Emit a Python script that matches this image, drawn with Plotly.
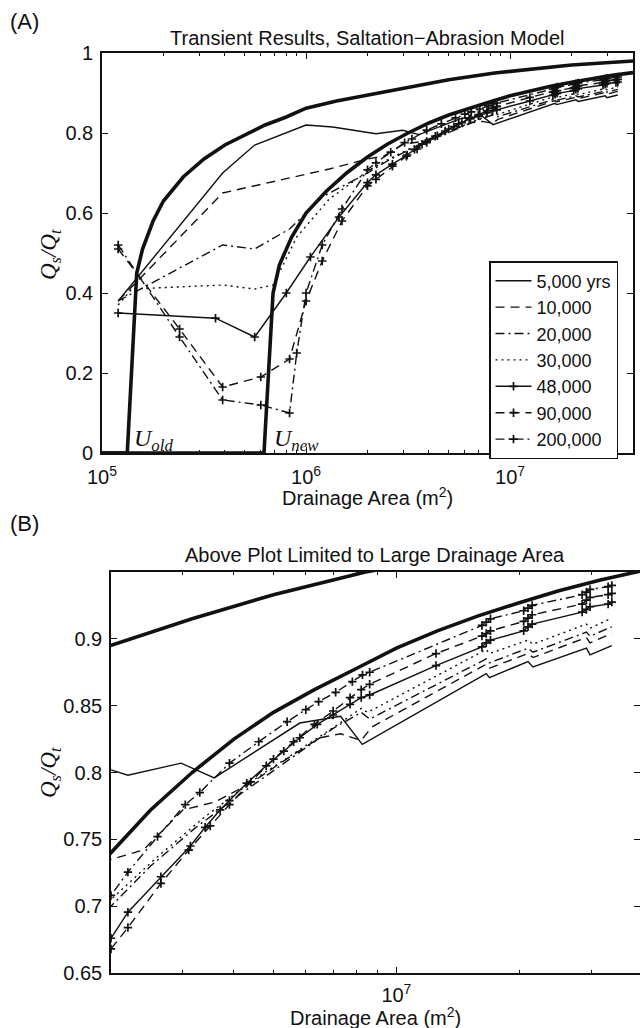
import numpy as np
import plotly.graph_objects as go

# ---------------- data ----------------
# steady-state curves (thick)
OLD_A = [1e5, 1.33e5, 1.48e5, 1.58e5, 1.78e5, 2.0e5, 2.5e5, 3.16e5, 4.0e5, 5.0e5, 6.3e5, 8.0e5,
         1.0e6, 1.41e6, 2.0e6, 3.16e6, 5.0e6, 8.4e6, 1.26e7, 2.0e7, 4.0e7]
OLD_V = [0, 0, 0.45, 0.51, 0.58, 0.63, 0.69, 0.735, 0.77, 0.795, 0.82, 0.84,
         0.862, 0.88, 0.895, 0.915, 0.933, 0.95, 0.96, 0.97, 0.98]
NEW_A = [1e5, 6.22e5, 6.89e5, 7.4e5, 8.5e5, 1.0e6, 1.26e6, 1.58e6, 2.0e6, 2.5e6, 3.16e6, 4.0e6,
         5.0e6, 6.3e6, 8.0e6, 1.0e7, 1.26e7, 1.58e7, 2.0e7, 2.5e7, 3.16e7, 4.0e7]
NEW_V = [0, 0, 0.40, 0.47, 0.54, 0.60, 0.655, 0.70, 0.74, 0.772, 0.80, 0.825,
         0.845, 0.862, 0.878, 0.893, 0.906, 0.917, 0.927, 0.936, 0.944, 0.951]

# transient series
S5K_A = [1.2e5, 3.9e5, 5.6e5, 1.0e6, 1.35e6, 2.0e6, 2.2e6, 2.97e6, 3.58e6, 5.8e6, 7.3e6, 8.25e6,
         1.66e7, 1.69e7, 2.1e7, 2.16e7, 2.92e7, 2.98e7, 3.37e7]
S5K_V = [0.38, 0.70, 0.77, 0.82, 0.815, 0.802, 0.798, 0.807, 0.796, 0.837, 0.842, 0.821,
         0.874, 0.871, 0.883, 0.879, 0.893, 0.888, 0.895]

S10K_A = [1.2e5, 3.9e5, 1.3e6, 2.0e6, 2.4e6, 3.0e6, 3.6e6, 4.4e6, 5.5e6, 6.5e6, 7.3e6, 8.2e6, 8.7e6,
          1.66e7, 1.69e7, 2.1e7, 2.16e7, 2.92e7, 2.98e7, 3.37e7]
S10K_V = [0.38, 0.65, 0.71, 0.735, 0.742, 0.772, 0.778, 0.792, 0.812, 0.826, 0.829, 0.824, 0.834,
          0.881, 0.878, 0.889, 0.886, 0.901, 0.897, 0.904]

S20K_A = [1.2e5, 3.9e5, 5.6e5, 8.3e5, 1.2e6, 2.0e6, 2.5e6, 3.2e6, 4.2e6, 5.5e6, 7.0e6, 8.2e6, 8.6e6,
          1.66e7, 1.69e7, 2.1e7, 2.16e7, 2.92e7, 2.98e7, 3.37e7]
S20K_V = [0.38, 0.52, 0.51, 0.56, 0.64, 0.70, 0.73, 0.758, 0.785, 0.81, 0.833, 0.845, 0.840,
          0.885, 0.882, 0.893, 0.89, 0.905, 0.902, 0.909]

S30K_A = [1.2e5, 1.4e5, 3.9e5, 5.6e5, 6.9e5, 9.0e5, 1.3e6, 2.0e6, 2.6e6, 3.4e6, 4.5e6, 5.8e6, 7.2e6,
          8.2e6, 8.5e6, 1.66e7, 1.69e7, 2.1e7, 2.16e7, 2.92e7, 2.98e7, 3.37e7]
S30K_V = [0.37, 0.41, 0.42, 0.41, 0.42, 0.54, 0.635, 0.705, 0.737, 0.767, 0.795, 0.817, 0.836,
          0.848, 0.845, 0.892, 0.889, 0.899, 0.896, 0.911, 0.908, 0.9155]

S48K_A = [1.2e5, 3.6e5, 5.6e5, 8.0e5, 1.05e6, 1.45e6, 2.0e6, 2.2e6, 2.65e6, 3.13e6, 3.4e6, 3.7e6,
          3.9e6, 4.3e6, 4.8e6, 5.3e6, 5.8e6, 6.4e6, 7.0e6, 7.7e6, 8.2e6, 8.6e6, 1.25e7, 1.62e7,
          1.66e7, 1.70e7, 2.05e7, 2.1e7, 2.15e7, 2.85e7, 2.92e7, 2.98e7, 3.3e7, 3.37e7]
S48K_V = [0.35, 0.337, 0.29, 0.40, 0.49, 0.59, 0.676, 0.6955, 0.722, 0.745, 0.759, 0.772,
          0.779, 0.792, 0.805, 0.816, 0.826, 0.836, 0.843, 0.851, 0.856, 0.858, 0.88, 0.894,
          0.897, 0.899, 0.906, 0.909, 0.911, 0.92, 0.922, 0.924, 0.926, 0.9275]

S90K_A = [1.2e5, 2.4e5, 3.9e5, 6.0e5, 8.3e5, 1.0e6, 1.2e6, 1.5e6, 2.0e6, 2.2e6, 2.65e6, 3.1e6,
          3.5e6, 3.9e6, 4.4e6, 5.0e6, 5.6e6, 6.3e6, 7.0e6, 7.7e6, 8.2e6, 8.6e6, 1.25e7, 1.62e7,
          1.66e7, 1.70e7, 2.05e7, 2.1e7, 2.15e7, 2.85e7, 2.92e7, 2.98e7, 3.3e7, 3.37e7]
S90K_V = [0.51, 0.31, 0.165, 0.19, 0.235, 0.38, 0.48, 0.58, 0.668, 0.684, 0.717, 0.742,
          0.76, 0.776, 0.793, 0.81, 0.823, 0.836, 0.846, 0.856, 0.862, 0.866, 0.889, 0.902,
          0.904, 0.906, 0.913, 0.9155, 0.918, 0.926, 0.929, 0.931, 0.933, 0.934]

S200K_A = [1.2e5, 2.4e5, 3.9e5, 6.0e5, 8.3e5, 9.0e5, 1.0e6, 1.2e6, 1.5e6, 2.0e6, 2.2e6, 2.6e6,
           3.04e6, 3.3e6, 3.9e6, 4.6e6, 5.4e6, 6.0e6, 6.45e6, 7.1e6, 7.8e6, 8.26e6, 8.6e6, 1.62e7,
           1.66e7, 1.70e7, 2.05e7, 2.1e7, 2.15e7, 2.85e7, 2.92e7, 2.98e7, 3.3e7, 3.37e7]
S200K_V = [0.52, 0.29, 0.1325, 0.12, 0.10, 0.25, 0.40, 0.52, 0.61, 0.708, 0.7255, 0.752,
           0.776, 0.785, 0.807, 0.823, 0.838, 0.847, 0.853, 0.86, 0.868, 0.873, 0.875, 0.91,
           0.9125, 0.915, 0.921, 0.923, 0.925, 0.933, 0.935, 0.937, 0.939, 0.940]

SERIES_NAMES = ["5,000 yrs", "10,000", "20,000", "30,000", "48,000", "90,000", "200,000"]
SERIES_A = [S5K_A, S10K_A, S20K_A, S30K_A, S48K_A, S90K_A, S200K_A]
SERIES_V = [S5K_V, S10K_V, S20K_V, S30K_V, S48K_V, S90K_V, S200K_V]

TOP_YTICKS = [0, 0.2, 0.4, 0.6, 0.8, 1]
TOP_YTICKTEXT = ["0", "0.2", "0.4", "0.6", "0.8", "1"]
BOT_YTICKS = [0.65, 0.7, 0.75, 0.8, 0.85, 0.9]
BOT_YTICKTEXT = ["0.65", "0.7", "0.75", "0.8", "0.85", "0.9"]

# ---------------- styling ----------------
W, H = 640, 1028
BLACK = "#111111"
FONT = "Liberation Sans, Arial, sans-serif"
SERIF = "Liberation Serif, Times New Roman, serif"
DASH = "9px,6px"
DASHDOT = "9px,4px,2px,4px"
DOT = "2px,4px"
STYLES = [
    dict(dash="solid", marker=False),
    dict(dash=DASH, marker=False),
    dict(dash=DASHDOT, marker=False),
    dict(dash=DOT, marker=False),
    dict(dash="solid", marker=True),
    dict(dash=DASH, marker=True),
    dict(dash=DASHDOT, marker=True),
]


def px(X):
    return X / W


def py(Y):
    return 1 - Y / H


fig = go.Figure()

for xa, ya in [("x", "y"), ("x2", "y2")]:
    for A, V in [(OLD_A, OLD_V), (NEW_A, NEW_V)]:
        fig.add_trace(go.Scatter(x=A, y=V, mode="lines", xaxis=xa, yaxis=ya,
                                 line=dict(color=BLACK, width=3.6), showlegend=False,
                                 hoverinfo="skip"))
    for i, (name, A, V) in enumerate(zip(SERIES_NAMES, SERIES_A, SERIES_V)):
        st = STYLES[i]
        fig.add_trace(go.Scatter(
            x=A, y=V, name=name, xaxis=xa, yaxis=ya,
            mode="lines+markers" if st["marker"] else "lines",
            line=dict(color=BLACK, width=1.4, dash=st["dash"]),
            marker=dict(symbol="cross-thin", size=6, line=dict(color=BLACK, width=1.7)),
            showlegend=(xa == "x"),
        ))

top_minor = [m * 10 ** e for e in (5, 6) for m in range(2, 10)] + [2e7, 3e7]
bot_minor = [m * 1e6 for m in range(2, 10)] + [2e7, 3e7]

axis_common = dict(showline=True, linecolor=BLACK, mirror="allticks",
                   ticks="inside", tickcolor=BLACK, ticklen=6, tickwidth=1,
                   showgrid=False, zeroline=False, automargin=False,
                   tickfont=dict(family=FONT, size=20, color=BLACK))

fig.update_layout(
    width=W, height=H, margin=dict(l=0, r=0, t=0, b=0),
    paper_bgcolor="white", plot_bgcolor="white",
    xaxis=dict(type="log", domain=[px(102), px(633)], range=[5, np.log10(4e7)], anchor="y",
               tickvals=[1e5, 1e6, 1e7], ticktext=["10<sup>5</sup>", "10<sup>6</sup>", "10<sup>7</sup>"],
               minor=dict(tickvals=top_minor, ticks="inside", ticklen=3, tickcolor=BLACK),
               ticklabelstandoff=5, linewidth=2, **axis_common),
    yaxis=dict(domain=[py(453), py(53)], range=[0, 1], anchor="x",
               tickvals=TOP_YTICKS, ticktext=TOP_YTICKTEXT, ticklabelstandoff=3,
               linewidth=1.6, **axis_common),
    xaxis2=dict(type="log", domain=[px(111), 1.0], range=[np.log10(2e6), np.log10(3.95e7)], anchor="y2",
                tickvals=[1e7], ticktext=["10<sup>7</sup>"],
                minor=dict(tickvals=bot_minor, ticks="inside", ticklen=3, tickcolor=BLACK),
                ticklabelstandoff=3, linewidth=2, **axis_common),
    yaxis2=dict(domain=[py(973), py(572)], range=[0.65, 0.95], anchor="x2",
                tickvals=BOT_YTICKS, ticktext=BOT_YTICKTEXT, ticklabelstandoff=3,
                linewidth=1.6, **axis_common),
    legend=dict(x=px(489), y=py(261), xanchor="left", yanchor="top",
                bgcolor="white", bordercolor=BLACK, borderwidth=1.5,
                font=dict(family=FONT, size=18, color=BLACK), tracegroupgap=0,
                itemwidth=36),
)

ann = []


def txt(text, X, Y, size=20, family=FONT, **kw):
    d = dict(text=text, x=px(X), y=py(Y), xref="paper", yref="paper", showarrow=False,
             xanchor="center", yanchor="middle",
             font=dict(family=family, size=size, color=BLACK))
    d.update(kw)
    ann.append(d)


txt("(A)", 8, 21, size=22, xanchor="left")
txt("(B)", 8, 523, size=22, xanchor="left")
txt("Transient Results, Saltation\u2212Abrasion Model", 367, 38)
txt("Above Plot Limited to Large Drainage Area", 375, 555)
txt("Drainage Area (m<sup>2</sup>)", 367, 496)
txt("Drainage Area (m<sup>2</sup>)", 375, 1016)
txt("<i>Q<sub>s</sub>/Q<sub>t</sub></i>", 50, 255, size=23, family=SERIF, textangle=-90)
txt("<i>Q<sub>s</sub>/Q<sub>t</sub></i>", 50, 773, size=23, family=SERIF, textangle=-90)

for label, xa in [("old", 5.147), ("new", 5.833)]:
    ann.append(dict(text="<i>U<sub>%s</sub></i>" % label, x=xa, y=0, xref="x", yref="y",
                    xanchor="left", yanchor="bottom", showarrow=False, yshift=-4,
                    font=dict(family=SERIF, size=24, color=BLACK)))

fig.update_layout(annotations=ann)
fig.write_html("out.html")
